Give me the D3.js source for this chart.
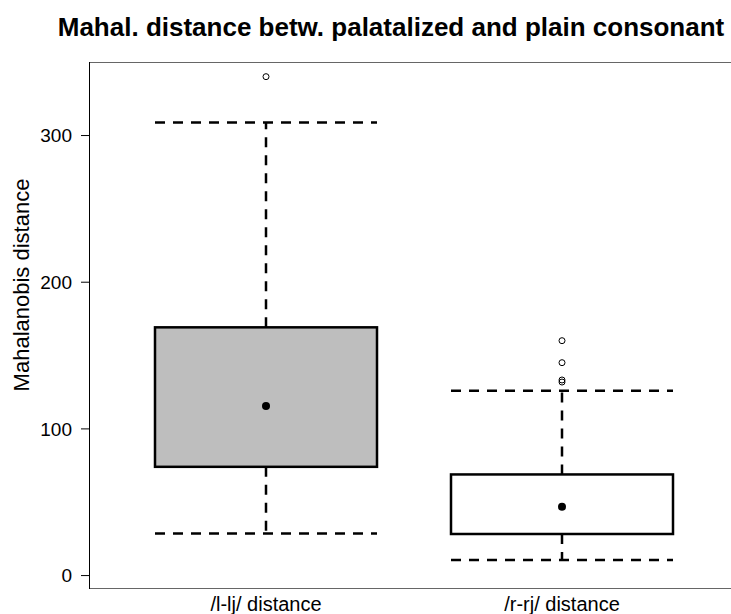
<!DOCTYPE html>
<html>
<head>
<meta charset="utf-8">
<script src="https://cdn.jsdelivr.net/npm/d3@7"></script>
<style>
  body { margin: 0; background: #fff; }
  svg { display: block; font-family: "Liberation Sans", Arial, sans-serif; }
</style>
</head>
<body>
<svg width="731" height="614"></svg>
<script>
// values
var categories = ['/l-lj/ distance', '/r-rj/ distance'];
var lowerWhisker = [28.4, 10.2];
var q1 = [73.8, 28.0];
var centre = [115.2, 46.6];   // the dot in each box
var q3 = [168.9, 68.6];
var upperWhisker = [308.6, 125.7];
var outliers = [[339.8], [159.8, 144.8, 133.0, 131.6]];
var yTicks = [0, 100, 200, 300];
var boxFill = ['#bebebe', '#ffffff'];

var svgWidth = 731, svgHeight = 614;
var margin = {top: 62, right: -80, bottom: 25, left: 89};
var width = svgWidth - margin.left - margin.right;
var height = svgHeight - margin.top - margin.bottom;

var svg = d3.select('svg');
var g = svg.append('g')
    .attr('transform', 'translate(' + margin.left + ',' + margin.top + ')');

var x = d3.scaleBand()
    .domain(categories)
    .range([118 - margin.left, 710 - margin.left]);

var y = d3.scaleLinear()
    .domain([-9.5, 349.8])
    .range([height, 0]);

var boxW = x.bandwidth() * 0.75;

var data = categories.map(function(c, i) {
    return {cat: c, lo: lowerWhisker[i], q1: q1[i], mid: centre[i], q3: q3[i],
            hi: upperWhisker[i], out: outliers[i], fill: boxFill[i]};
});

// frame (top and bottom; the right side runs off the page)
g.append('line').attr('x1', 0).attr('x2', width).attr('y1', 0.5).attr('y2', 0.5)
    .attr('stroke', '#666').attr('stroke-width', 1);
g.append('line').attr('x1', 0).attr('x2', width).attr('y1', height - 0.5).attr('y2', height - 0.5)
    .attr('stroke', '#666').attr('stroke-width', 1);

// y axis
var yAxis = g.append('g')
    .call(d3.axisLeft(y).tickValues(yTicks).tickSize(8).tickPadding(9).tickSizeOuter(0))
    .attr('font-size', 19)
    .attr('font-family', '"Liberation Sans", Arial, sans-serif');
yAxis.select('.domain').attr('d', 'M0.5,0V' + height).attr('stroke', '#000');
yAxis.selectAll('.tick text').attr('fill', '#000').attr('dy', '0.35em');

var boxes = g.selectAll('.box').data(data).enter().append('g').attr('class', 'box');

var dash = '10,8';

// whisker stems
boxes.append('line')
    .attr('x1', function(d) { return x(d.cat) + x.bandwidth() / 2; })
    .attr('x2', function(d) { return x(d.cat) + x.bandwidth() / 2; })
    .attr('y1', function(d) { return y(d.q3); })
    .attr('y2', function(d) { return y(d.hi); })
    .attr('stroke', '#000').attr('stroke-width', 2.5).attr('stroke-dasharray', dash);
boxes.append('line')
    .attr('x1', function(d) { return x(d.cat) + x.bandwidth() / 2; })
    .attr('x2', function(d) { return x(d.cat) + x.bandwidth() / 2; })
    .attr('y1', function(d) { return y(d.q1); })
    .attr('y2', function(d) { return y(d.lo); })
    .attr('stroke', '#000').attr('stroke-width', 2.5).attr('stroke-dasharray', dash);

// whisker caps (full box width, dashed)
['hi', 'lo'].forEach(function(k) {
    boxes.append('line')
        .attr('x1', function(d) { return x(d.cat) + (x.bandwidth() - boxW) / 2; })
        .attr('x2', function(d) { return x(d.cat) + (x.bandwidth() + boxW) / 2; })
        .attr('y1', function(d) { return y(d[k]); })
        .attr('y2', function(d) { return y(d[k]); })
        .attr('stroke', '#000').attr('stroke-width', 2.5).attr('stroke-dasharray', dash);
});

// box
boxes.append('rect')
    .attr('x', function(d) { return x(d.cat) + (x.bandwidth() - boxW) / 2; })
    .attr('width', boxW)
    .attr('y', function(d) { return y(d.q3); })
    .attr('height', function(d) { return y(d.q1) - y(d.q3); })
    .attr('fill', function(d) { return d.fill; })
    .attr('stroke', '#000').attr('stroke-width', 2.5);

// centre dot
boxes.append('circle')
    .attr('cx', function(d) { return x(d.cat) + x.bandwidth() / 2; })
    .attr('cy', function(d) { return y(d.mid); })
    .attr('r', 4)
    .attr('fill', '#000');

// outliers
boxes.selectAll('.out')
    .data(function(d) { return d.out.map(function(v) { return {cat: d.cat, v: v}; }); })
    .enter().append('circle')
    .attr('cx', function(d) { return x(d.cat) + x.bandwidth() / 2; })
    .attr('cy', function(d) { return y(d.v); })
    .attr('r', 3)
    .attr('fill', 'none')
    .attr('stroke', '#000').attr('stroke-width', 1);

// x labels
g.selectAll('.xlab').data(categories).enter().append('text')
    .attr('x', function(d) { return x(d) + x.bandwidth() / 2; })
    .attr('y', height + 22)
    .attr('text-anchor', 'middle')
    .attr('font-size', 20)
    .text(function(d) { return d; });

// y label
svg.append('text')
    .attr('transform', 'translate(29,285) rotate(-90)')
    .attr('text-anchor', 'middle')
    .attr('font-size', 22)
    .text('Mahalanobis distance');

// title
svg.append('text')
    .attr('x', 391)
    .attr('y', 36)
    .attr('text-anchor', 'middle')
    .attr('font-size', 26)
    .attr('font-weight', 'bold')
    .text('Mahal. distance betw. palatalized and plain consonant');
</script>
</body>
</html>
